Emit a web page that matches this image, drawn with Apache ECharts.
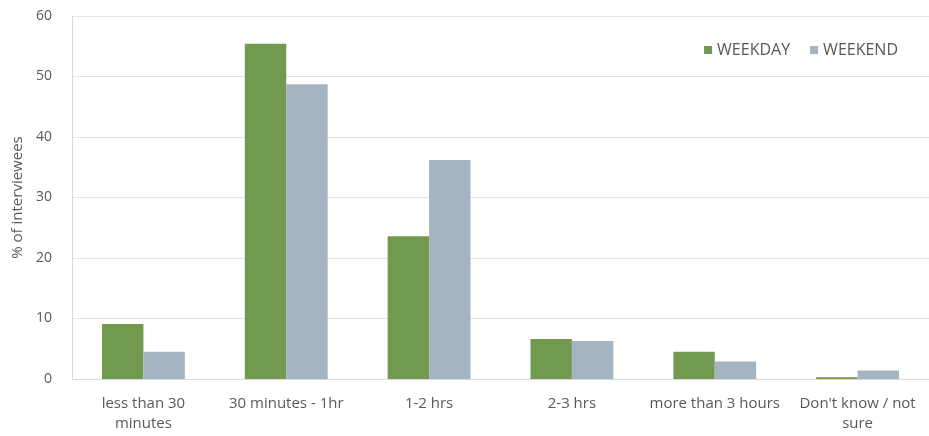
<!DOCTYPE html>
<html><head><meta charset="utf-8">
<script src="https://cdn.jsdelivr.net/npm/echarts@6/dist/echarts.min.js"></script>
<style>html,body{margin:0;padding:0;background:#fff}#c{width:929px;height:436px}</style>
</head><body><div id="c"></div>
<script>
const categories = ["less than 30\nminutes", "30 minutes - 1hr", "1-2 hrs", "2-3 hrs", "more than 3 hours", "Don't know / not\nsure"];
const weekday = [9.1, 55.4, 23.6, 6.6, 4.5, 0.3];
const weekend = [4.5, 48.7, 36.2, 6.3, 2.9, 1.4];
const yTicks = { min: 0, max: 60, interval: 10 };

const chart = echarts.init(document.getElementById('c'), null, { renderer: 'canvas' });
const font = '"Open Sans", "Liberation Sans", sans-serif';
chart.setOption({
  animation: false,
  textStyle: { fontFamily: font },
  legend: {
    top: 37, right: 26, itemWidth: 8, itemHeight: 8, itemGap: 20,
    icon: 'rect',
    textStyle: { color: '#595959', fontSize: 16, fontFamily: font },
    data: ['WEEKDAY', 'WEEKEND']
  },
  grid: { left: 72, right: 0, top: 16, bottom: 57, containLabel: false, outerBoundsMode: 'none' },
  xAxis: {
    type: 'category', data: categories,
    axisLine: { lineStyle: { color: '#d9d9d9' } },
    axisTick: { show: false },
    axisLabel: { color: '#595959', fontSize: 15, interval: 0, lineHeight: 20, margin: 15 }
  },
  yAxis: {
    type: 'value', min: yTicks.min, max: yTicks.max, interval: yTicks.interval,
    name: '% of interviewees', nameLocation: 'middle', nameGap: 45, nameRotate: 90,
    nameTextStyle: { color: '#595959', fontSize: 15 },
    axisLine: { show: true, lineStyle: { color: '#d9d9d9' } },
    axisLabel: { color: '#595959', fontSize: 14, margin: 20 },
    splitLine: { lineStyle: { color: '#e3e3e3' } }
  },
  series: [
    { name: 'WEEKDAY', type: 'bar', data: weekday, barGap: '0%', barCategoryGap: '42%',
      itemStyle: { color: '#719a50' } },
    { name: 'WEEKEND', type: 'bar', data: weekend,
      itemStyle: { color: '#a4b4c0' } }
  ]
});
</script></body></html>
